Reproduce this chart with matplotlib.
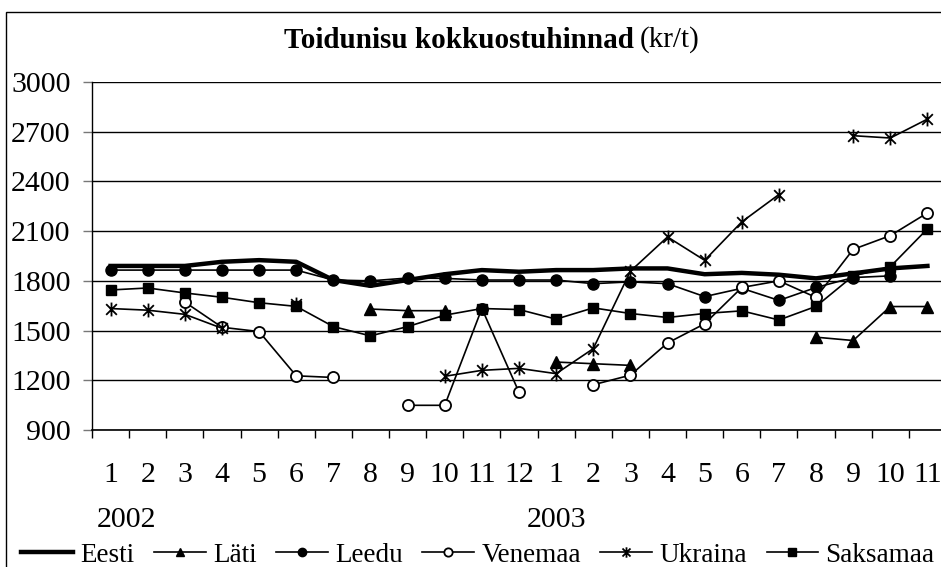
import numpy as np
import matplotlib
matplotlib.use("Agg")
import matplotlib.pyplot as plt
from matplotlib.path import Path
from matplotlib.patches import Rectangle

nan = np.nan

months = [1, 2, 3, 4, 5, 6, 7, 8, 9, 10, 11, 12, 1, 2, 3, 4, 5, 6, 7, 8, 9, 10, 11]
years = {0: "2002", 12: "2003"}

eesti = [1890, 1890, 1890, 1915, 1925, 1915, 1805, 1770, 1805, 1840, 1865, 1855,
         1865, 1865, 1875, 1875, 1840, 1848, 1837, 1815, 1845, 1875, 1890]
lati = [nan, nan, nan, nan, nan, nan, nan, 1630, 1620, 1620, nan, nan,
        1310, 1300, 1290, nan, nan, nan, nan, 1460, 1440, 1645, 1645]
leedu = [1865, 1865, 1865, 1865, 1865, 1865, 1805, 1800, 1817, 1815, 1805, 1805,
         1805, 1783, 1794, 1783, 1705, 1755, 1682, 1760, 1820, 1830, nan]
venemaa = [nan, nan, 1672, 1520, 1494, 1227, 1217, nan, 1049, 1049, 1633, 1128,
           nan, 1173, 1231, 1425, 1541, 1760, 1800, 1700, 1990, 2073, 2210]
ukraina = [1633, 1623, 1598, 1514, nan, 1662, nan, nan, nan, 1224, 1260, 1272,
           1240, 1391, 1858, 2065, 1924, 2156, 2321, nan, 2676, 2662, 2776]
saksamaa = [1745, 1757, 1727, 1701, 1668, 1646, 1524, 1468, 1524, 1593, 1633, 1627,
            1569, 1637, 1603, 1579, 1603, 1619, 1564, 1646, 1830, 1885, 2114]

yticks = [900, 1200, 1500, 1800, 2100, 2400, 2700, 3000]

plt.rcParams["font.family"] = ["Liberation Serif", "DejaVu Serif"]

# excel-like star marker: X plus vertical bar
star = Path([(-1, -1), (1, 1), (-1, 1), (1, -1), (0, -1.3), (0, 1.3)],
            [Path.MOVETO, Path.LINETO, Path.MOVETO, Path.LINETO, Path.MOVETO, Path.LINETO])

W, H = 941, 567
fig = plt.figure(figsize=(W / 100, H / 100), dpi=100)
ax = fig.add_axes([92 / W, 1 - 430 / H, 854 / W, 348 / H])

x = np.arange(len(months))
lw = 1.2
ax.plot(x, eesti, color="black", lw=3.2, label="Eesti", zorder=5)
ax.plot(x, lati, color="black", lw=lw, marker="^", ms=8, mfc="black", label="Läti", zorder=4)
ax.plot(x, leedu, color="black", lw=lw, marker="o", ms=8, mfc="black", label="Leedu", zorder=4)
ax.plot(x, venemaa, color="black", lw=lw, marker="o", ms=8, mfc="white", mew=1.3,
        label="Venemaa", zorder=4)
ax.plot(x, ukraina, color="black", lw=lw, marker=star, ms=10, mew=1.3, label="Ukraina", zorder=4)
ax.plot(x, saksamaa, color="black", lw=lw, marker="s", ms=7.5, mfc="black", label="Saksamaa",
        zorder=4)

ax.set_xlim(-0.5, len(months) - 0.5)
ax.set_ylim(900, 3000)
ax.set_yticks(yticks)
ax.set_yticklabels([str(v) for v in yticks], fontsize=21.5)
ax.tick_params(axis="y", length=6.5, width=1, pad=9, color="#777777")
ax.set_xticks(np.arange(-0.5, len(months), 1.0))
ax.set_xticklabels([])
ax.tick_params(axis="x", length=6, width=1, color="black")
ax.grid(axis="y", color="black", lw=1)
ax.set_axisbelow(True)
for s in ["top", "right"]:
    ax.spines[s].set_visible(False)
ax.spines["left"].set_linewidth(1)
ax.spines["bottom"].set_linewidth(1.2)

tr = ax.get_xaxis_transform()
for i, m in enumerate(months):
    ax.text(i, -0.13, str(m), transform=tr, ha="center", va="center", fontsize=21.5)
year_shift = {0: -0.36, 12: -0.78}
for i, y in years.items():
    ax.text(i + year_shift[i], -0.26, y, transform=tr, ha="left", va="center", fontsize=21.5)

t = fig.text(284 / W, 1 - 40 / H, "Toidunisu kokkuostuhinnad", ha="left", va="center",
             fontsize=21, fontweight="bold")
fig.canvas.draw()
bb = t.get_window_extent()
fig.text((bb.x1 + 6) / W, 1 - 40 / H, "(kr/t)", ha="left", va="center", fontsize=21)

fig.patches.append(Rectangle((6 / W, -0.1), 1.2, 1 - 12 / H + 0.1, transform=fig.transFigure,
                             fill=False, ec="black", lw=1))

leg = fig.legend(loc="center", bbox_to_anchor=(478 / W, 1 - 555 / H), ncol=6, frameon=False,
                 fontsize=19.5, handlelength=1.9, handletextpad=0.28, columnspacing=0.72,
                 markerscale=0.75, borderpad=0, borderaxespad=0)

fig.savefig("out.png", dpi=100)
